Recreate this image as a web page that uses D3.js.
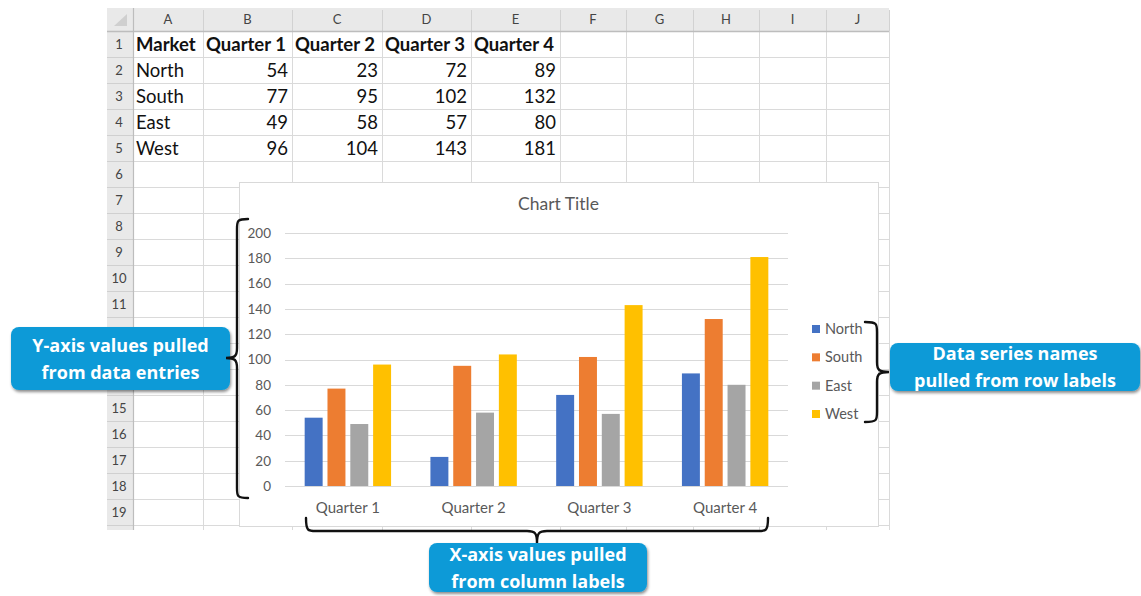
<!DOCTYPE html>
<html>
<head>
<meta charset="utf-8">
<script src="https://cdn.jsdelivr.net/npm/d3@7"></script>
<style>
  html, body { margin: 0; padding: 0; background: #ffffff; }
  svg { display: block; }
</style>
</head>
<body>
<svg id="root" width="1141" height="596"></svg>
<script>
// Sales by market and quarter
const quarters = ["Quarter 1", "Quarter 2", "Quarter 3", "Quarter 4"];
const markets = ["North", "South", "East", "West"];
const north = [54, 23, 72, 89];
const south = [77, 95, 102, 132];
const east = [49, 58, 57, 80];
const west = [96, 104, 143, 181];
const yTicks = [0, 20, 40, 60, 80, 100, 120, 140, 160, 180, 200];
const columnLetters = ["A", "B", "C", "D", "E", "F", "G", "H", "I", "J"];

const seriesValues = [north, south, east, west];
const colors = ["#4472C4", "#ED7D31", "#A5A5A5", "#FFC000"];

const svg = d3.select("#root");
const FONT = "Lato, 'Liberation Sans', sans-serif";
const CALLOUT_FONT = "'Open Sans', 'DejaVu Sans', sans-serif";

// callout boxes (drawn last, on top of everything)
const callouts = [
  { x: 11, y: 327, w: 219, h: 63, lines: ["Y-axis values pulled", "from data entries"] },
  { x: 890, y: 343, w: 250, h: 48, lines: ["Data series names", "pulled from row labels"] },
  { x: 429, y: 543, w: 218, h: 49, lines: ["X-axis values pulled", "from column labels"] }
];

// ---------- worksheet grid ----------
const sheet = {
  left: 107, rowHeadRight: 133, top: 8, headBottom: 31, rowH: 26, rows: 19, bottom: 530,
  colRights: [203, 292, 382, 471, 560, 626, 693, 759, 826, 889]
};
const colLefts = [sheet.rowHeadRight].concat(sheet.colRights.slice(0, -1));
const gridRight = sheet.colRights[sheet.colRights.length - 1];

const gSheet = svg.append("g");
// header backgrounds
gSheet.append("rect").attr("x", sheet.left).attr("y", sheet.top)
  .attr("width", gridRight - sheet.left).attr("height", sheet.headBottom - sheet.top)
  .attr("fill", "#e9e9e9");
gSheet.append("rect").attr("x", sheet.left).attr("y", sheet.top)
  .attr("width", sheet.rowHeadRight - sheet.left).attr("height", sheet.bottom - sheet.top)
  .attr("fill", "#e9e9e9");
// corner triangle
gSheet.append("path")
  .attr("d", `M${sheet.rowHeadRight - 6},${sheet.top + 6} L${sheet.rowHeadRight - 6},${sheet.headBottom - 5} L${sheet.left + 7},${sheet.headBottom - 5} Z`)
  .attr("fill", "#cfcfcf");

// horizontal row lines
const rowLines = d3.range(1, sheet.rows + 1).map(i => sheet.headBottom + i * sheet.rowH);
gSheet.selectAll("line.rowline").data(rowLines).join("line")
  .attr("x1", sheet.rowHeadRight).attr("x2", gridRight)
  .attr("y1", d => d + 0.5).attr("y2", d => d + 0.5)
  .attr("stroke", "#dadada");
gSheet.selectAll("line.rowheadline").data(rowLines).join("line")
  .attr("x1", sheet.left).attr("x2", sheet.rowHeadRight)
  .attr("y1", d => d + 0.5).attr("y2", d => d + 0.5)
  .attr("stroke", "#d0d0d0");
// vertical column lines
gSheet.selectAll("line.colline").data(sheet.colRights).join("line")
  .attr("x1", d => d + 0.5).attr("x2", d => d + 0.5)
  .attr("y1", sheet.headBottom).attr("y2", sheet.bottom)
  .attr("stroke", "#dadada");
gSheet.selectAll("line.colheadline").data(sheet.colRights).join("line")
  .attr("x1", d => d + 0.5).attr("x2", d => d + 0.5)
  .attr("y1", sheet.top + 2).attr("y2", sheet.headBottom)
  .attr("stroke", "#d2d2d2");
// header borders
gSheet.append("line").attr("x1", sheet.left).attr("x2", gridRight)
  .attr("y1", sheet.headBottom + 0.5).attr("y2", sheet.headBottom + 0.5)
  .attr("stroke", "#bdbdbd").attr("stroke-width", 1.5);
gSheet.append("line").attr("x1", sheet.rowHeadRight + 0.5).attr("x2", sheet.rowHeadRight + 0.5)
  .attr("y1", sheet.top).attr("y2", sheet.bottom)
  .attr("stroke", "#bdbdbd").attr("stroke-width", 1.2);

// column letters
gSheet.selectAll("text.colletter").data(columnLetters).join("text")
  .attr("x", (d, i) => (colLefts[i] + sheet.colRights[i]) / 2)
  .attr("y", (sheet.top + sheet.headBottom) / 2 + 4.5)
  .attr("text-anchor", "middle")
  .attr("font-family", FONT).attr("font-size", 13).attr("fill", "#444")
  .text(d => d);
// row numbers (the ones behind the left callout stay hidden)
const rowMid = r => sheet.headBottom + (r - 0.5) * sheet.rowH;
const leftCall = callouts[0];
const visibleRows = d3.range(1, sheet.rows + 1)
  .filter(r => rowMid(r) + 7 < leftCall.y || rowMid(r) - 7 > leftCall.y + leftCall.h);
gSheet.selectAll("text.rownum").data(visibleRows).join("text")
  .attr("x", (sheet.left + sheet.rowHeadRight) / 2 - 1)
  .attr("y", d => rowMid(d) + 5)
  .attr("text-anchor", "middle")
  .attr("font-family", FONT).attr("font-size", 13).attr("fill", "#444")
  .text(d => d);

// cell contents
const rowBase = r => rowMid(r) + 6.5;
const headerCells = ["Market"].concat(quarters);
gSheet.selectAll("text.hcell").data(headerCells).join("text")
  .attr("x", (d, i) => colLefts[i] + 3)
  .attr("y", rowBase(1))
  .attr("font-family", FONT).attr("font-weight", 700).attr("font-size", 18.5)
  .attr("fill", "#111")
  .text(d => d);
markets.forEach((m, r) => {
  gSheet.append("text")
    .attr("x", colLefts[0] + 3).attr("y", rowBase(r + 2))
    .attr("font-family", FONT).attr("font-size", 18.5).attr("fill", "#111")
    .text(m);
  seriesValues[r].forEach((v, c) => {
    gSheet.append("text")
      .attr("x", sheet.colRights[c + 1] - 4).attr("y", rowBase(r + 2))
      .attr("text-anchor", "end")
      .attr("font-family", FONT).attr("font-size", 18.5).attr("fill", "#111")
      .text(v);
  });
});

// ---------- embedded chart ----------
const box = { x: 239, y: 182, w: 639, h: 344 };
const gChart = svg.append("g");
gChart.append("rect").attr("x", box.x + 0.5).attr("y", box.y + 0.5)
  .attr("width", box.w).attr("height", box.h)
  .attr("fill", "#ffffff").attr("stroke", "#d9d9d9");

gChart.append("text")
  .attr("x", box.x + box.w / 2).attr("y", 210)
  .attr("text-anchor", "middle")
  .attr("font-family", FONT).attr("font-size", 17.5).attr("fill", "#595959")
  .text("Chart Title");

const plot = { left: 285, right: 788, top: 233, bottom: 486 };
const x = d3.scaleBand().domain(quarters).range([plot.left, plot.right]).paddingInner(0).paddingOuter(0);
const y = d3.scaleLinear().domain([0, 200]).range([plot.bottom, plot.top]);

// clustered column: gap width 219%, overlap -27%
const barW = x.bandwidth() / 7;
const groupW = barW * 4 + barW * 0.27 * 3;
const inner = d3.scaleBand().domain(markets)
  .range([0, groupW]).paddingInner(0.27 / 1.27).paddingOuter(0);

// gridlines
gChart.append("g").selectAll("line").data(yTicks).join("line")
  .attr("x1", plot.left).attr("x2", plot.right)
  .attr("y1", d => Math.round(y(d)) + 0.5).attr("y2", d => Math.round(y(d)) + 0.5)
  .attr("stroke", "#d9d9d9").attr("stroke-width", 1);

// y axis labels
const yAxis = d3.axisLeft(y).tickValues(yTicks).tickSize(0).tickPadding(14);
const gy = gChart.append("g").attr("transform", `translate(${plot.left},0)`).call(yAxis);
gy.select(".domain").remove();
gy.selectAll("text").attr("font-family", FONT).attr("font-size", 13.5).attr("fill", "#595959");

// x axis labels
const xAxis = d3.axisBottom(x).tickSize(0).tickPadding(16);
const gx = gChart.append("g").attr("transform", `translate(0,${plot.bottom})`).call(xAxis);
gx.select(".domain").remove();
gx.selectAll("text").attr("font-family", FONT).attr("font-size", 15).attr("fill", "#595959");

// bars
const barData = [];
quarters.forEach((q, qi) => {
  markets.forEach((m, mi) => barData.push({ q, m, mi, v: seriesValues[mi][qi] }));
});
gChart.append("g").selectAll("rect").data(barData).join("rect")
  .attr("x", d => x(d.q) + (x.bandwidth() - groupW) / 2 + inner(d.m))
  .attr("width", inner.bandwidth())
  .attr("y", d => y(d.v))
  .attr("height", d => y(0) - y(d.v))
  .attr("fill", d => colors[d.mi]);

// legend
const legendY = d3.scalePoint().domain(markets).range([329, 414]);
const gLeg = gChart.append("g");
gLeg.selectAll("rect").data(markets).join("rect")
  .attr("x", 812).attr("y", d => legendY(d) - 4).attr("width", 8).attr("height", 8)
  .attr("fill", (d, i) => colors[i]);
gLeg.selectAll("text").data(markets).join("text")
  .attr("x", 825).attr("y", d => legendY(d) + 5)
  .attr("font-family", FONT).attr("font-size", 14.5).attr("fill", "#595959")
  .text(d => d);

// ---------- callouts ----------
const defs = svg.append("defs");
const shadow = defs.append("filter").attr("id", "calloutShadow")
  .attr("x", "-10%").attr("y", "-20%").attr("width", "125%").attr("height", "150%");
shadow.append("feDropShadow").attr("dx", 1).attr("dy", 2).attr("stdDeviation", 1.6)
  .attr("flood-color", "#000").attr("flood-opacity", 0.45);

const gCall = svg.append("g");
callouts.forEach(c => {
  gCall.append("rect").attr("x", c.x).attr("y", c.y).attr("width", c.w).attr("height", c.h)
    .attr("rx", 8).attr("fill", "#0a9ad7").attr("filter", "url(#calloutShadow)");
  const mid = c.y + c.h / 2;
  c.lines.forEach((t, i) => {
    gCall.append("text")
      .attr("x", c.x + c.w / 2).attr("y", mid + (i === 0 ? -13.5 : 13.5) + 6.5)
      .attr("text-anchor", "middle")
      .attr("font-family", CALLOUT_FONT).attr("font-weight", 700).attr("font-size", 18)
      .attr("fill", "#ffffff")
      .text(t);
  });
});

// ---------- curly braces ----------
function vBrace(xEnd, xSpine, xTip, yTop, yMid, yBot) {
  const r = 10, s = Math.sign(xEnd - xSpine);
  return `M${xEnd},${yTop} C${xSpine},${yTop} ${xSpine},${yTop + 2} ${xSpine},${yTop + r}
    L${xSpine},${yMid - r} C${xSpine},${yMid - 2} ${xSpine - 2 * s},${yMid} ${xTip},${yMid}
    C${xSpine - 2 * s},${yMid} ${xSpine},${yMid + 2} ${xSpine},${yMid + r}
    L${xSpine},${yBot - r} C${xSpine},${yBot - 2} ${xSpine},${yBot} ${xEnd},${yBot}`;
}
function hBrace(yEnd, ySpine, yTip, xLeft, xMid, xRight) {
  const r = 10, s = Math.sign(yEnd - ySpine);
  return `M${xLeft},${yEnd} C${xLeft},${ySpine} ${xLeft + 2},${ySpine} ${xLeft + r},${ySpine}
    L${xMid - r},${ySpine} C${xMid - 2},${ySpine} ${xMid},${ySpine - 2 * s} ${xMid},${yTip}
    C${xMid},${ySpine - 2 * s} ${xMid + 2},${ySpine} ${xMid + r},${ySpine}
    L${xRight - r},${ySpine} C${xRight - 2},${ySpine} ${xRight},${ySpine} ${xRight},${yEnd}`;
}
const gBr = svg.append("g").attr("fill", "none").attr("stroke", "#111")
  .attr("stroke-width", 2.4).attr("stroke-linecap", "round");
gBr.append("path").attr("d", vBrace(248, 237, 226, 219, 358, 498));
gBr.append("path").attr("d", vBrace(865, 877, 889, 322, 372, 422));
gBr.append("path").attr("d", hBrace(518, 531, 543, 306, 537, 768));
</script>
</body>
</html>
